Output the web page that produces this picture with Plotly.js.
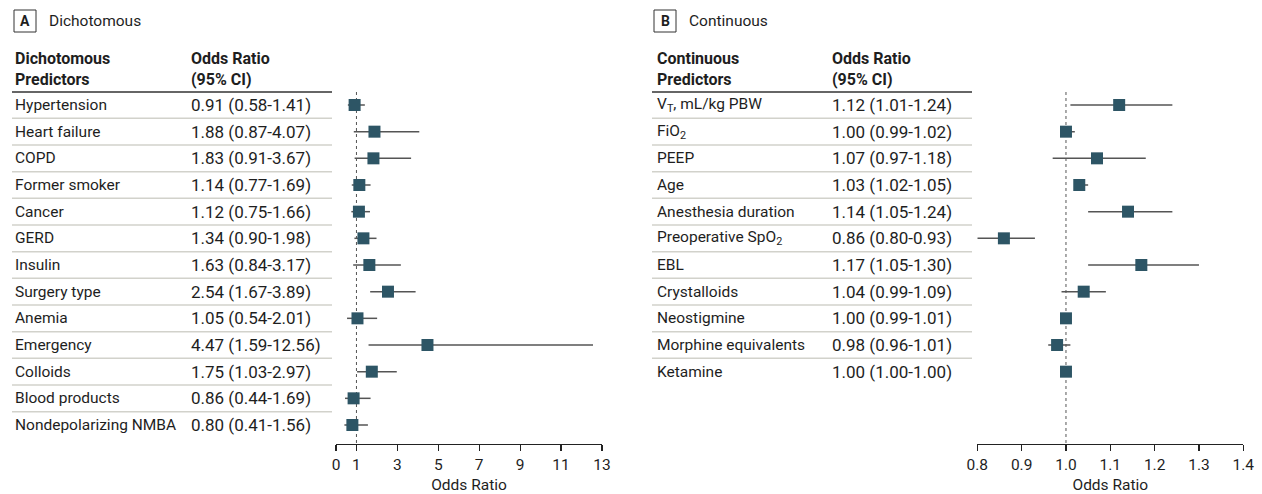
<!DOCTYPE html>
<html><head><meta charset="utf-8">
<script src="https://cdn.plot.ly/plotly-3.0.1.min.js"></script>
<style>body{margin:0;background:#fff}#c{width:1262px;height:494px}</style>
</head><body><div id="c"></div>
<script>
// Panel A: dichotomous predictors
const dichLabels = ["Hypertension","Heart failure","COPD","Former smoker","Cancer","GERD","Insulin","Surgery type","Anemia","Emergency","Colloids","Blood products","Nondepolarizing NMBA"];
const dichOR   = [0.91,1.88,1.83,1.14,1.12,1.34,1.63,2.54,1.05,4.47,1.75,0.86,0.80];
const dichLow  = [0.58,0.87,0.91,0.77,0.75,0.90,0.84,1.67,0.54,1.59,1.03,0.44,0.41];
const dichHigh = [1.41,4.07,3.67,1.69,1.66,1.98,3.17,3.89,2.01,12.56,2.97,1.69,1.56];
const dichTicks = [0,1,3,5,7,9,11,13];

// Panel B: continuous predictors
const contLabels = ["V<sub>T</sub>, mL/kg PBW","FiO<sub>2</sub>","PEEP","Age","Anesthesia duration","Preoperative SpO<sub>2</sub>","EBL","Crystalloids","Neostigmine","Morphine equivalents","Ketamine"];
const contOR   = [1.12,1.00,1.07,1.03,1.14,0.86,1.17,1.04,1.00,0.98,1.00];
const contLow  = [1.01,0.99,0.97,1.02,1.05,0.80,1.05,0.99,0.99,0.96,1.00];
const contHigh = [1.24,1.02,1.18,1.05,1.24,0.93,1.30,1.09,1.01,1.01,1.00];
const contTicks = [0.8,0.9,1.0,1.1,1.2,1.3,1.4];

const W = 1262, H = 494;
const px = v => v / W;
const py = v => 1 - v / H;
const FONT = "Roboto, 'Liberation Sans', sans-serif";
const TXT = "#1e1e1e";
const SQ = "#2d5565";
const fmt = v => v.toFixed(2);
const ciText = (o,l,h) => fmt(o) + " (" + fmt(l) + "-" + fmt(h) + ")";

function forest(or, lo, hi, xa, ya) {
  return {
    type: "scatter", mode: "markers", xaxis: xa, yaxis: ya,
    x: or, y: or.map((_, i) => i),
    error_x: { type: "data", symmetric: false,
      array: hi.map((h, i) => h - or[i]),
      arrayminus: lo.map((l, i) => or[i] - l),
      color: "#555", thickness: 1.5, width: 0 },
    marker: { symbol: "square", size: 12, color: SQ },
    hoverinfo: "skip", showlegend: false, cliponaxis: false
  };
}

const annotations = [];
const shapes = [];
function panel(labels, or, lo, hi, yref, xLab, xVal, lineX0, lineX1, letter, title, hdr1) {
  labels.forEach((lab, i) => {
    annotations.push({ xref: "paper", yref: yref, x: px(xLab - 1.5), y: i, text: lab, showarrow: false,
      xanchor: "left", yanchor: "middle", font: { family: FONT, size: 15.5, color: TXT } });
    annotations.push({ xref: "paper", yref: yref, x: px(xVal - 2), y: i, text: ciText(or[i], lo[i], hi[i]), showarrow: false,
      xanchor: "left", yanchor: "middle", font: { family: FONT, size: 17, color: TXT } });
    if (i < labels.length - 1) {
      shapes.push({ type: "line", xref: "paper", yref: yref, x0: px(lineX0), x1: px(lineX1), y0: i + 0.5, y1: i + 0.5,
        line: { color: "#d2d2cb", width: 1.5 } });
    }
  });
  // header rows
  const hf = { family: FONT, size: 16, color: TXT };
  annotations.push({ xref: "paper", yref: "paper", x: px(xLab - 1.5), y: py(58), text: "<b>" + hdr1 + "</b>", showarrow: false, xanchor: "left", yanchor: "middle", font: hf });
  annotations.push({ xref: "paper", yref: "paper", x: px(xLab - 1.5), y: py(80), text: "<b>Predictors</b>", showarrow: false, xanchor: "left", yanchor: "middle", font: hf });
  annotations.push({ xref: "paper", yref: "paper", x: px(xVal - 2), y: py(58), text: "<b>Odds Ratio</b>", showarrow: false, xanchor: "left", yanchor: "middle", font: hf });
  annotations.push({ xref: "paper", yref: "paper", x: px(xVal - 2), y: py(80), text: "<b>(95% CI)</b>", showarrow: false, xanchor: "left", yanchor: "middle", font: hf });
  shapes.push({ type: "line", xref: "paper", yref: "paper", x0: px(lineX0), x1: px(lineX1), y0: py(92), y1: py(92),
    line: { color: "#333", width: 1.5 } });
  // panel letter box + title
  shapes.push({ type: "rect", xref: "paper", yref: "paper", x0: px(lineX0 + 2), x1: px(lineX0 + 24), y0: py(10), y1: py(32),
    line: { color: "#333", width: 1 } });
  annotations.push({ xref: "paper", yref: "paper", x: px(lineX0 + 13), y: py(21), text: "<b>" + letter + "</b>", showarrow: false,
    xanchor: "center", yanchor: "middle", font: { family: FONT, size: 14, color: TXT } });
  annotations.push({ xref: "paper", yref: "paper", x: px(lineX0 + 35), y: py(21), text: title, showarrow: false,
    xanchor: "left", yanchor: "middle", font: { family: FONT, size: 15.5, color: TXT } });
}
panel(dichLabels, dichOR, dichLow, dichHigh, "y", 14, 191, 12, 332, "A", "Dichotomous", "Dichotomous");
panel(contLabels, contOR, contLow, contHigh, "y2", 656, 832, 652, 972, "B", "Continuous", "Continuous");

// reference lines at OR = 1
shapes.push({ type: "line", xref: "x", yref: "paper", x0: 1, x1: 1, y0: py(92), y1: py(444), line: { color: "#555", width: 1, dash: "dot" }, layer: "below" });
shapes.push({ type: "line", xref: "x2", yref: "paper", x0: 1, x1: 1, y0: py(92), y1: py(444), line: { color: "#555", width: 1, dash: "dot" }, layer: "below" });

const yDom = [py(444), py(92)];
const yRange = [12.7125, -0.4875];
function xax(dom, range, ticks, anchor, fmtS) {
  return { domain: dom, range: range, tickvals: ticks, ticktext: ticks.map(t => fmtS ? t.toFixed(1) : String(t)),
    showline: true, linecolor: "#222", linewidth: 1.2, ticks: "outside", ticklen: 6, tickcolor: "#222", tickwidth: 1.2,
    showgrid: false, zeroline: false, anchor: anchor, fixedrange: true,
    tickfont: { family: FONT, size: 15.5, color: TXT },
    title: { text: "Odds Ratio", font: { family: FONT, size: 15.5, color: TXT }, standoff: 6 } };
}

const layout = {
  width: W, height: H, margin: { l: 0, r: 0, t: 0, b: 0 }, paper_bgcolor: "#fff", plot_bgcolor: "rgba(0,0,0,0)",
  showlegend: false,
  xaxis: xax([px(336), px(602)], [0, 13], dichTicks, "y", false),
  xaxis2: xax([px(977.3), px(1243.3)], [0.8, 1.4], contTicks, "y2", true),
  yaxis: { domain: yDom, range: yRange, visible: false, anchor: "x", fixedrange: true },
  yaxis2: { domain: yDom, range: yRange, visible: false, anchor: "x2", fixedrange: true },
  annotations: annotations, shapes: shapes
};

Plotly.newPlot("c", [forest(dichOR, dichLow, dichHigh, "x", "y"), forest(contOR, contLow, contHigh, "x2", "y2")], layout, { staticPlot: true });
</script></body></html>
